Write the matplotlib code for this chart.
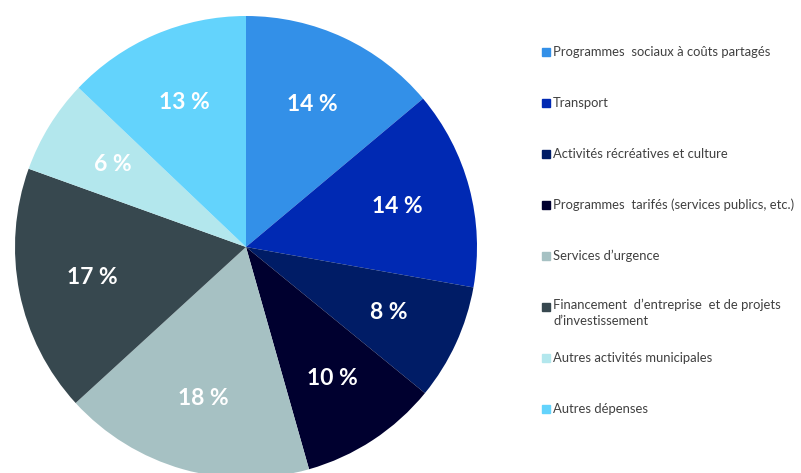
import matplotlib.pyplot as plt
from matplotlib.patches import Rectangle

# Data
categories = [
    "Programmes  sociaux à coûts partagés",
    "Transport",
    "Activités récréatives et culture",
    "Programmes  tarifés (services publics, etc.)",
    "Services d’urgence",
    "Financement  d’entreprise  et de projets\nd’investissement",
    "Autres activités municipales",
    "Autres dépenses",
]
shares = [13.9, 13.9, 8.1, 9.7, 17.6, 17.3, 6.6, 12.9]
pct_labels = ["14 %", "14 %", "8 %", "10 %", "18 %", "17 %", "6 %", "13 %"]
colors = ["#3390E8", "#0029B3", "#001C66", "#00002F",
          "#A6C1C3", "#37484F", "#B3E7ED", "#63D3FC"]

W, H = 801, 473
fig = plt.figure(figsize=(W / 100, H / 100), dpi=100)

# pie axes: centre (246, 247) px, radius 231 px
cx, cy, r = 246, 247, 231
ax = fig.add_axes([(cx - r) / W, (H - cy - r) / H, 2 * r / W, 2 * r / H])
wedges, texts = ax.pie(shares, colors=colors, startangle=90, counterclock=False,
                       radius=1, labels=pct_labels, labeldistance=0.68,
                       wedgeprops=dict(linewidth=0),
                       textprops=dict(color="white", fontsize=16.5, fontweight="bold",
                                      family=["Lato", "DejaVu Sans"]))
for t in texts:
    t.set_ha("center")
    t.set_va("center")
ax.set_xlim(-1, 1)
ax.set_ylim(-1, 1)
ax.set_aspect("equal")
ax.axis("off")

# legend drawn by hand, Excel style
for i, (lab, col) in enumerate(zip(categories, colors)):
    y = 52 + 51 * i
    fig.patches.append(Rectangle((542 / W, (H - y - 4) / H), 8 / W, 8 / H,
                                 transform=fig.transFigure, color=col))
    if "\n" in lab:
        fig.text(553 / W, (H - y + 8) / H, lab, ha="left", va="top",
                 fontsize=9.4, color="#404040", family=["Lato", "DejaVu Sans"],
                 linespacing=1.35)
    else:
        fig.text(553 / W, (H - y) / H, lab, ha="left", va="center",
                 fontsize=9.4, color="#404040", family=["Lato", "DejaVu Sans"])

fig.savefig("out.png", dpi=100)
